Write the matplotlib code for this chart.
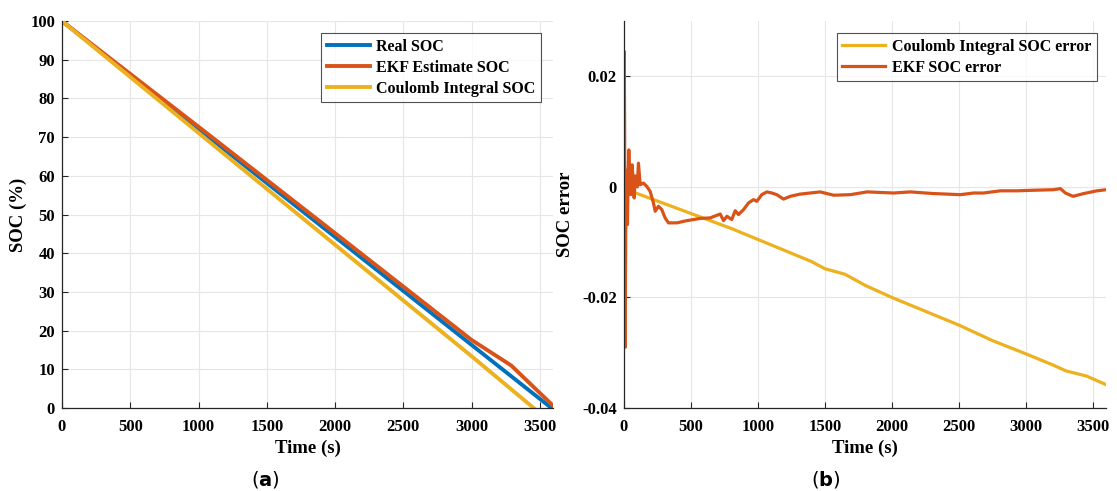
import matplotlib
matplotlib.use("Agg")
import matplotlib.pyplot as plt

plt.rcParams['font.family'] = ['Liberation Serif', 'DejaVu Serif']
plt.rcParams['font.weight'] = 'bold'
plt.rcParams['mathtext.fontset'] = 'custom'
plt.rcParams['mathtext.rm'] = 'DejaVu Sans'
plt.rcParams['mathtext.bf'] = 'DejaVu Sans:bold'

BLUE = '#0072BD'
ORANGE = '#D95319'
YELLOW = '#EDB120'

# SOC curves (%)
real_t = [0, 3585]
real_soc = [100, 0]
ekf_t = [0, 1000, 2000, 3000, 3290, 3600]
ekf_soc = [100, 72.7, 45.2, 17.6, 11.0, 0.5]
coulomb_t = [0, 1000, 2000, 3000, 3455]
coulomb_soc = [100, 71.1, 42.2, 13.4, 0]

# SOC error curves
cerr_t = [0, 50, 100, 300, 500, 800, 1000, 1200, 1400, 1500, 1650, 1800, 2000,
          2250, 2500, 2750, 3000, 3200, 3300, 3450, 3600]
cerr = [0, -0.0008, -0.0012, -0.003, -0.0048, -0.0075, -0.0095, -0.0115, -0.0135,
        -0.0148, -0.0158, -0.0178, -0.0200, -0.0225, -0.0250, -0.0278, -0.0302,
        -0.0322, -0.0333, -0.0342, -0.0358]

ekf_err_t = [0, 3, 6, 10, 14, 20, 27, 32, 37, 45, 52, 62, 70, 77, 85, 92, 100, 109,
             122, 146, 171, 196, 221, 234, 258, 283, 308, 333, 395, 470, 569, 644,
             719, 744, 769, 805, 831, 855, 893, 930, 967, 992, 1029, 1067, 1104,
             1141, 1191, 1241, 1315, 1390, 1465, 1565, 1690, 1814, 2013, 2137,
             2311, 2510, 2610, 2685, 2809, 2933, 3058, 3207, 3257, 3294, 3351,
             3431, 3530, 3600]
ekf_err = [-0.005, 0.0245, 0.010, -0.029, -0.008, 0.003, -0.0068, 0.002, 0.0067,
           0.001, -0.0014, 0.004, 0.0005, -0.002, 0.002, 0.0016, 0.000, 0.0043,
           0.0004, 0.0007, 0.0001, -0.0008, -0.0029, -0.0044, -0.0035, -0.0041,
           -0.0056, -0.0065, -0.0065, -0.0061, -0.0057, -0.0056, -0.0049, -0.0061,
           -0.0053, -0.0059, -0.0043, -0.0050, -0.0041, -0.0029, -0.0023, -0.0026,
           -0.0014, -0.0009, -0.0011, -0.0014, -0.0022, -0.0017, -0.0013, -0.0011,
           -0.0009, -0.0015, -0.0014, -0.0009, -0.0011, -0.0009, -0.0012, -0.0014,
           -0.0011, -0.0011, -0.0007, -0.0007, -0.0006, -0.0005, -0.0003, -0.0011,
           -0.0017, -0.0012, -0.0007, -0.0005]


def style_axes(ax):
    ax.grid(True, color='#e6e6e6', linewidth=0.8)
    ax.set_axisbelow(True)
    ax.spines['top'].set_visible(False)
    ax.spines['right'].set_visible(False)
    for s in ('left', 'bottom'):
        ax.spines[s].set_color('#262626')
        ax.spines[s].set_linewidth(0.9)
    ax.tick_params(direction='in', length=4, width=0.8, color='#262626',
                   labelsize=12)
    ax.tick_params(axis='x', pad=8)
    ax.tick_params(axis='y', pad=5)
    ax.set_xlim(0, 3600)
    ax.set_xticks(range(0, 3600, 500))
    ax.set_xlabel('Time (s)', fontsize=13.5, fontweight='bold', labelpad=3)


def add_legend(ax, right):
    leg = ax.legend(loc='upper right', bbox_to_anchor=(right, 0.968), fontsize=11.5,
                    fancybox=False, edgecolor='#262626', handlelength=2.7,
                    borderpad=0.35, labelspacing=0.3, handletextpad=0.4,
                    borderaxespad=0)
    leg.get_frame().set_linewidth(0.8)


fig = plt.figure(figsize=(11.17, 4.91), dpi=100)

ax1 = fig.add_axes([0.0555, 0.169, 0.44, 0.788])
ax1.plot(real_t, real_soc, color=BLUE, lw=2.8, label='Real SOC')
ax1.plot(ekf_t, ekf_soc, color=ORANGE, lw=2.8, label='EKF Estimate SOC')
ax1.plot(coulomb_t, coulomb_soc, color=YELLOW, lw=2.8, label='Coulomb Integral SOC')
style_axes(ax1)
ax1.set_ylim(0, 100)
ax1.set_yticks(range(0, 101, 10))
ax1.set_ylabel('SOC (%)', fontsize=13.5, fontweight='bold', labelpad=2)
add_legend(ax1, 0.975)

ax2 = fig.add_axes([0.5585, 0.169, 0.432, 0.788])
ax2.plot(cerr_t, cerr, color=YELLOW, lw=2.3, label='Coulomb Integral SOC error')
ax2.plot(ekf_err_t, ekf_err, color=ORANGE, lw=2.3, label='EKF SOC error')
style_axes(ax2)
ax2.set_ylim(-0.04, 0.03)
ax2.set_yticks([-0.04, -0.02, 0, 0.02])
ax2.set_yticklabels(['-0.04', '-0.02', '0', '0.02'])
ax2.set_ylabel('SOC error', fontsize=13.5, fontweight='bold', labelpad=6)
add_legend(ax2, 0.98)

fig.text(0.238, 0.024, r'($\mathbf{a}$)', family='DejaVu Sans', fontweight='normal',
         fontsize=14, ha='center', va='center')
fig.text(0.739, 0.024, r'($\mathbf{b}$)', family='DejaVu Sans', fontweight='normal',
         fontsize=14, ha='center', va='center')

fig.savefig('out.png', dpi=100)
